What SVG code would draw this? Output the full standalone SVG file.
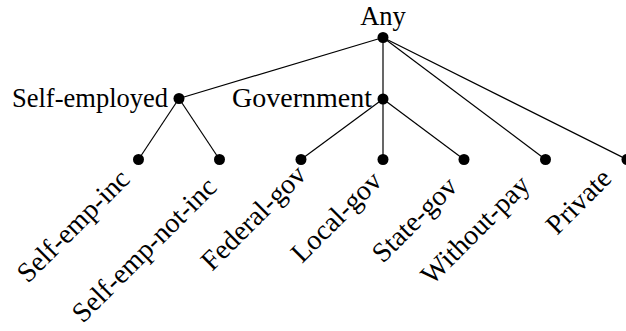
<svg xmlns="http://www.w3.org/2000/svg" width="626" height="331" viewBox="0 0 626 331">
<style>
.e{stroke:#000;stroke-width:1.2;fill:none}
.d{fill:#000}
.t{font-family:"Liberation Serif","DejaVu Serif",serif;font-size:26.5px;fill:#000}
.l{font-family:"Liberation Serif","DejaVu Serif",serif;font-size:28px;fill:#000}
</style>
<rect width="626" height="331" fill="#fff"/>
<g id="edges">
<line class="e" x1="383" y1="37.5" x2="179" y2="98.5"/>
<line class="e" x1="383" y1="37.5" x2="383" y2="99"/>
<line class="e" x1="383" y1="37.5" x2="545.5" y2="159.5"/>
<line class="e" x1="383" y1="37.5" x2="627" y2="159.5"/>
<line class="e" x1="179" y1="98.5" x2="138.5" y2="159.5"/>
<line class="e" x1="179" y1="98.5" x2="219.5" y2="159.5"/>
<line class="e" x1="383" y1="99" x2="301" y2="159.5"/>
<line class="e" x1="383" y1="99" x2="383" y2="159.5"/>
<line class="e" x1="383" y1="99" x2="464" y2="159.5"/>
</g>
<g id="any"><circle class="d" cx="383" cy="37.5" r="5.5"/><text class="t" x="383" y="25" text-anchor="middle">Any</text></g>
<g id="self-employed"><circle class="d" cx="179" cy="98.5" r="5.5"/><text class="t" x="12" y="107" textLength="156" lengthAdjust="spacingAndGlyphs">Self-employed</text></g>
<g id="government"><circle class="d" cx="383" cy="99" r="5.5"/><text class="t" x="232" y="107" textLength="140" lengthAdjust="spacingAndGlyphs">Government</text></g>
<g id="self-emp-inc"><circle class="d" cx="138.5" cy="159.5" r="5.5"/><text class="l" transform="translate(28,284) rotate(-45)">Self-emp-inc</text></g>
<g id="self-emp-not-inc"><circle class="d" cx="219.5" cy="159.5" r="5.5"/><text class="l" transform="translate(83,324) rotate(-45)">Self-emp-not-inc</text></g>
<g id="federal-gov"><circle class="d" cx="301" cy="159.5" r="5.5"/><text class="l" transform="translate(212,272) rotate(-45)">Federal-gov</text></g>
<g id="local-gov"><circle class="d" cx="383" cy="159.5" r="5.5"/><text class="l" transform="translate(302,264) rotate(-45)">Local-gov</text></g>
<g id="state-gov"><circle class="d" cx="464" cy="159.5" r="5.5"/><text class="l" transform="translate(383,264) rotate(-45)">State-gov</text></g>
<g id="without-pay"><circle class="d" cx="545.5" cy="159.5" r="5.5"/><text class="l" transform="translate(432,286) rotate(-45)">Without-pay</text></g>
<g id="private"><circle class="d" cx="627" cy="159.5" r="5.5"/><text class="l" transform="translate(557,236) rotate(-45)">Private</text></g>
</svg>
